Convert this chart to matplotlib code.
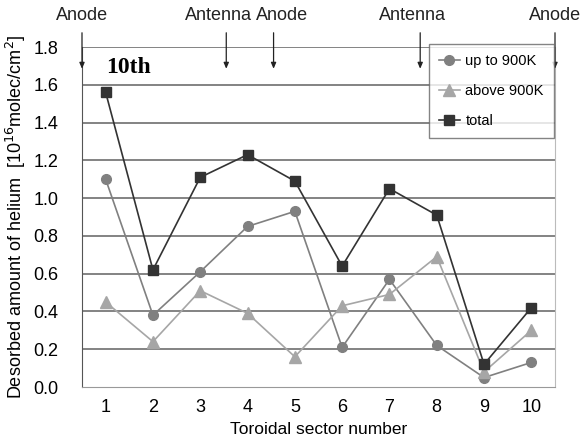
import matplotlib
matplotlib.use("Agg")
import matplotlib.pyplot as plt

# ---------------------------------------------------------------------------
# data
# ---------------------------------------------------------------------------
sectors = [1, 2, 3, 4, 5, 6, 7, 8, 9, 10]
up_to_900k = [1.10, 0.38, 0.61, 0.85, 0.93, 0.21, 0.57, 0.22, 0.05, 0.13]
above_900k = [0.45, 0.24, 0.51, 0.39, 0.16, 0.43, 0.49, 0.69, 0.08, 0.30]
total = [1.56, 0.62, 1.11, 1.23, 1.09, 0.64, 1.05, 0.91, 0.12, 0.42]

marker_labels = ["Anode", "Antenna", "Anode", "Antenna", "Anode"]
marker_x = [0.5, 3.55, 4.55, 7.65, 10.5]
label_x = [0.5, 3.38, 4.72, 7.48, 10.5]

yticks = [0.0, 0.2, 0.4, 0.6, 0.8, 1.0, 1.2, 1.4, 1.6, 1.8]

plt.rcParams["font.family"] = ["Liberation Sans", "DejaVu Sans"]

fig = plt.figure(figsize=(5.85, 4.41), dpi=100)
ax = fig.add_axes([82 / 585, 1 - 387 / 441, (555 - 82) / 585, (387 - 47) / 441])

ax.set_xlim(0.5, 10.5)
ax.set_ylim(0, 1.8)

for v in yticks[1:]:
    ax.axhline(v, color="#7a7a7a", lw=1.3, zorder=1)

ax.plot(sectors, up_to_900k, "-o", color="#808080", ms=7, lw=1.2,
        label="up to 900K", zorder=3)
ax.plot(sectors, above_900k, "-^", color="#a6a6a6", ms=8, lw=1.2,
        label="above 900K", zorder=3)
ax.plot(sectors, total, "-s", color="#333333", ms=7, lw=1.2,
        label="total", zorder=4)

ax.set_xticks(sectors)
ax.set_yticks(yticks)
ax.set_yticklabels([f"{v:.1f}" for v in yticks])
ax.tick_params(length=0, labelsize=13)
ax.tick_params(axis="y", pad=17)
ax.tick_params(axis="x", pad=9)

ax.spines["top"].set_visible(False)
ax.spines["left"].set_color("#555555")
ax.spines["bottom"].set_color("#999999")
ax.spines["right"].set_color("#bbbbbb")

ax.set_xlabel("Toroidal sector number", fontsize=12.5, labelpad=4)
ax.set_ylabel("Desorbed amount of helium  [10$^{16}$molec/cm$^{2}$]",
              fontsize=13, labelpad=4)

# position markers above the plot
for lab, xm, xl in zip(marker_labels, marker_x, label_x):
    ax.annotate("", xy=(xm, 1.67), xytext=(xm, 1.89),
                arrowprops=dict(arrowstyle="-|>,head_width=0.15,head_length=0.35",
                                color="#222222", lw=0.9),
                annotation_clip=False)
    ax.text(xl, 1.92, lab, ha="center", va="bottom", fontsize=13,
            color="#222222")

ax.text(1.0, 1.69, "10th", fontsize=17, fontweight="bold",
        family="Liberation Serif", ha="left", va="center")

leg = ax.legend(loc="upper right", bbox_to_anchor=(0.998, 1.01), fontsize=10.5,
                frameon=True, fancybox=False, edgecolor="#666666",
                handlelength=1.4, handletextpad=0.4, labelspacing=1.1,
                borderpad=0.7, borderaxespad=0.0)
leg.get_frame().set_linewidth(1.0)

fig.savefig("out.png", dpi=100)
